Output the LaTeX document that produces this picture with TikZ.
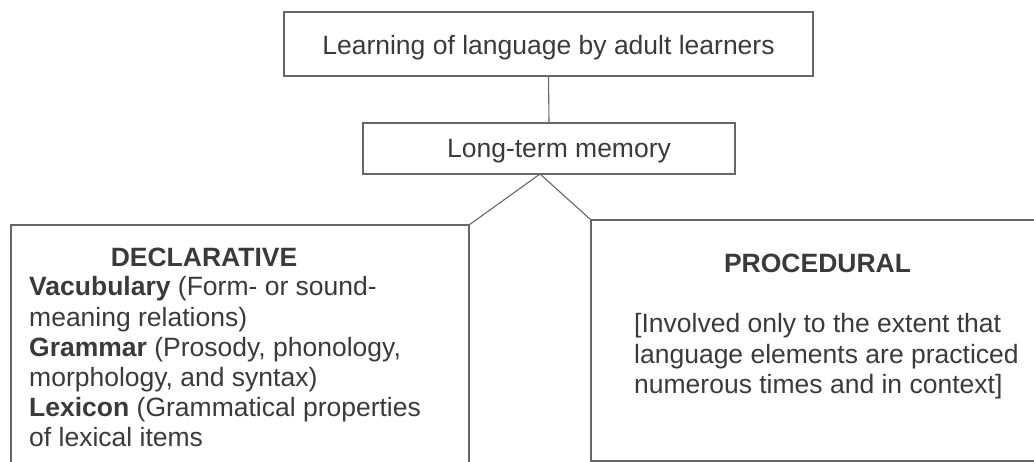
\documentclass[tikz,border=0pt]{standalone}
\usepackage{fontspec}
\setmainfont{Liberation Sans}
\definecolor{inkgray}{HTML}{3A3A3A}
\definecolor{linegray}{HTML}{666666}
\begin{document}
\begin{tikzpicture}[x=1pt,y=1pt,
  frame/.style={draw=linegray, line width=1.3pt},
  box/.style={frame, rectangle, inner sep=0pt},
  txt/.style={inner sep=0pt, text=inkgray, font=\fontsize{26.5}{30.2}\selectfont},
  link/.style={draw=linegray, line width=1.1pt}]
\useasboundingbox (0,0) rectangle (1034,-462);

% top-level boxes
\node[box, minimum width=529pt, minimum height=64pt] (top) at (548.5,-44) {};
\node[txt, anchor=base] (toptext) at (548.5,-55) {Learning of language by adult learners};

\node[box, minimum width=372pt, minimum height=51pt] (ltm) at (549,-148.5) {};
\node[txt, anchor=base] (ltmtext) at (559,-158) {Long-term memory};

% corners of the two memory-type panels
\coordinate (apex) at (540,-174);
\coordinate (declTL) at (11,-225);
\coordinate (declTR) at (469,-225);
\coordinate (declBL) at (11,-462);
\coordinate (declBR) at (469,-462);
\coordinate (procTL) at (591,-220);
\coordinate (procTR) at (1034,-220);
\coordinate (procBL) at (591,-461);
\coordinate (procBR) at (1034,-461);

% panels (declarative runs off the bottom, procedural off the right)
\draw[frame] (declBL) -- (declTL) -- (declTR) -- (declBR);
\draw[frame] (procTR) -- (procTL) -- (procBL) -- (procBR);

% connectors
\draw[link] (top.south) -- (ltm.north);
\draw[link] (declTR) -- (apex) -- (procTL);

% declarative panel text
\node[txt, anchor=base, font=\fontsize{26.5}{30.2}\selectfont\bfseries] (decltitle) at (204,-266.7) {DECLARATIVE};
\node[txt, anchor=base west] (declbody) at (29,-296) {%
  \def\arraystretch{1}\setlength{\baselineskip}{30pt}%
  \begin{tabular}[t]{@{}l@{}}
  \textbf{Vacubulary} (Form- or sound-\\
  meaning relations)\\
  \textbf{Grammar} (Prosody, phonology,\\
  morphology, and syntax)\\
  \textbf{Lexicon} (Grammatical properties\\
  of lexical items
  \end{tabular}};

% procedural panel text
\node[txt, anchor=base, font=\fontsize{26.5}{30.2}\selectfont\bfseries] (proctitle) at (817.5,-273) {PROCEDURAL};
\node[txt, anchor=base west] (procbody) at (634,-333) {%
  \fontsize{26.5}{30.5}\selectfont
  \begin{tabular}[t]{@{}l@{}}
  [Involved only to the extent that\\
  language elements are practiced\\
  numerous times and in context]
  \end{tabular}};
\end{tikzpicture}
\end{document}
